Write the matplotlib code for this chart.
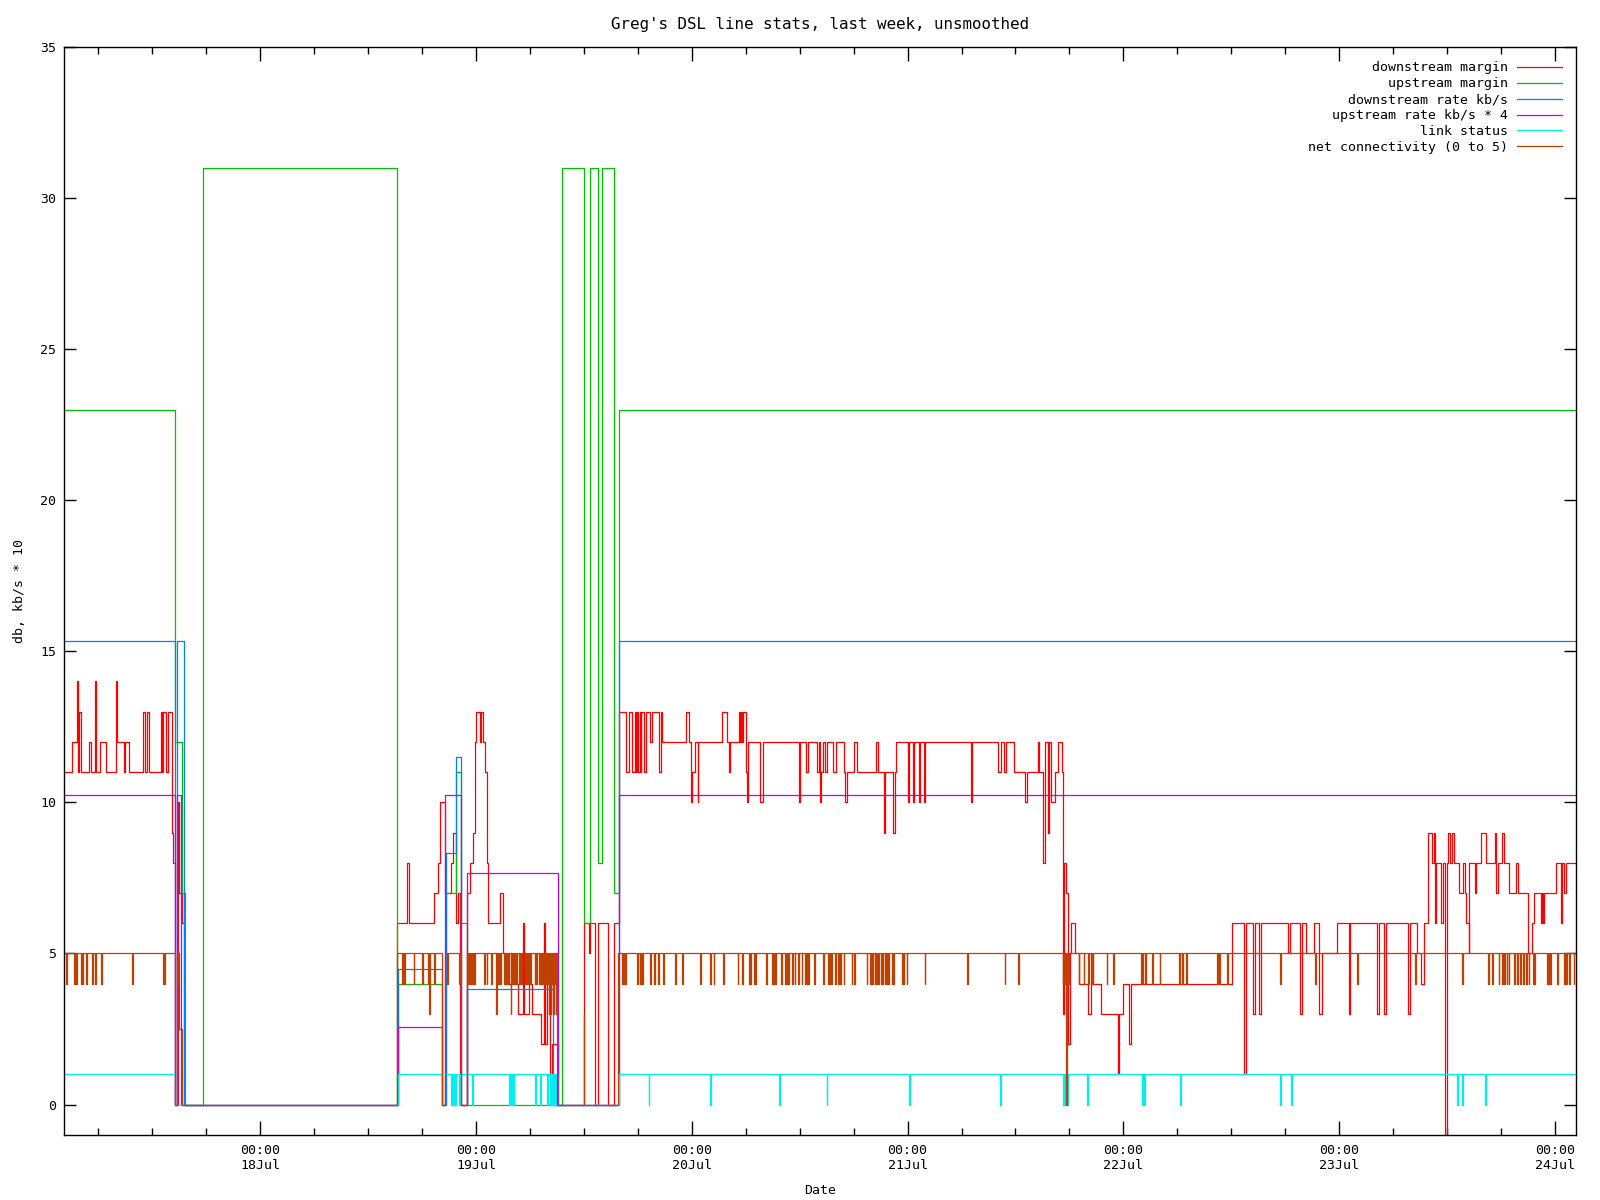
"""
	Greg's DSL line stats for the last week, redrawn as step lines
"""

from datetime import datetime, timedelta

import numpy as np
import matplotlib
matplotlib.use('Agg')
import matplotlib.pyplot as plt
import matplotlib.dates as mdates

# all times are hours since 17 Jul 00:00
START = datetime(2008, 7, 17)
SAMPLE = 0.083   # one 5 minute sample

# downstream margin
red_t = [2.2, 3.1, 3.6, 3.7, 3.88, 4.03, 5.0, 5.22, 5.6, 5.7, 6.22, 6.89, 7.9, 8.04, 8.89, 9.0, 9.45,
	10.9, 11.2, 11.37, 11.67, 12.9, 13.1, 13.2, 13.56, 13.7, 14.23, 14.34, 14.56, 14.85, 14.95, 15.25, 15.5,
	39.26, 40.37, 40.59, 43.37, 43.74, 44.04, 44.56, 45.18, 45.4, 45.74, 45.96, 46.2, 47.04, 47.34, 47.71,
	47.93, 48.04, 48.41, 48.56, 48.75, 49.04, 49.27, 49.38, 50.71, 50.94, 51.23, 52.71, 53.27, 53.38, 53.9,
	54.27, 55.27, 55.61, 55.72, 55.9, 56.24, 56.46, 57.1, 59.95, 60.6, 60.72, 61.2, 61.6, 62.73, 63.39, 63.95,
	64.73, 65.03, 65.29, 65.66, 65.84, 65.95, 66.06, 66.18, 66.29, 66.4, 66.73, 66.95, 67.4, 67.62, 68.4,
	68.62, 68.73, 71.4, 71.63, 71.96, 72.07, 72.33, 72.63, 72.74, 75.41, 75.96, 76.08, 76.3, 77.3, 77.41,
	77.52, 77.63, 77.74, 77.97, 78.08, 78.3, 79.63, 79.97, 83.97, 84.08, 84.75, 84.97, 85.97, 86.09, 86.2,
	86.42, 86.64, 86.86, 86.98, 87.75, 87.98, 88.98, 89.09, 89.31, 90.09, 90.42, 92.43, 92.76, 93.32, 93.43,
	94.43, 94.65, 94.76, 95.99, 96.1, 96.65, 96.76, 97.32, 97.43, 97.77, 97.99, 103.0, 103.11, 106.0, 106.44,
	106.67, 106.89, 107.78, 109.11, 109.33, 110.45, 110.67, 111.11, 111.33, 111.67, 111.78, 112.0, 112.34,
	112.78, 113.12, 113.3, 113.45, 113.6, 113.8, 114.05, 114.17, 114.67, 115.03, 116.04, 116.39, 117.48,
	119.39, 119.51, 120.01, 120.68, 120.86, 132.13, 133.47, 133.69, 134.47, 134.69, 135.14, 135.36, 138.36,
	138.55, 139.7, 139.85, 140.33, 141.15, 141.81, 142.04, 143.81, 145.08, 145.22, 148.19, 148.38, 149.04,
	149.19, 151.71, 151.9, 152.64, 153.1, 153.49, 153.83, 154.38, 154.57, 154.68, 154.79, 155.38, 155.57,
	155.83, 156.05, 156.16, 156.35, 156.53, 156.79, 157.35, 157.79, 158.05, 158.16, 158.39, 158.5, 159.09,
	159.2, 159.83, 160.39, 161.39, 161.5, 161.72, 162.17, 162.39, 162.84, 163.72, 163.84, 165.06, 165.43,
	165.73, 166.4, 166.51, 166.73, 166.84, 168.17, 168.73, 168.84, 169.06, 169.18, 170.4]
red_v = [11, 12, 14, 11, 13, 11, 12, 11, 14, 11, 12, 11, 14, 12, 11, 12, 11,
	13, 11, 13, 11, 13, 11, 13, 11, 13, 9, 8, 0, 10, 7, 6, 0,
	6, 8, 6, 7, 8, 10, 7, 8, 9, 6, 7, 0, 7, 8, 9,
	12, 13, 12, 13, 12, 11, 8, 6, 7, 5, 4, 3, 6, 3, 4,
	3, 2, 6, 2, 4, 1, 2, 0, 6, 5, 6, 0, 6, 0, 6, 13,
	11, 13, 11, 13, 11, 13, 11, 13, 11, 13, 11, 13, 12, 13, 11,
	13, 12, 13, 12, 10, 11, 12, 10, 12, 13, 12, 11, 12, 13, 12,
	13, 12, 13, 11, 10, 12, 10, 12, 10, 12, 11, 12, 11, 12, 10,
	11, 12, 11, 12, 11, 12, 11, 10, 11, 12, 11, 12, 11, 9, 11,
	9, 11, 12, 10, 12, 10, 12, 10, 12, 10, 12, 10, 12, 11, 12,
	11, 12, 11, 10, 11, 12, 11, 8, 12, 9, 12, 10, 11,
	12, 11, 3, 8, 7, 2, 5, 6, 5, 4, 3, 4, 3,
	1, 3, 4, 2, 4, 6, 1, 6, 3, 6, 3, 6, 5,
	6, 3, 6, 5, 6, 3, 5, 6, 3, 6, 3, 6, 3,
	6, 3, 6, 5, 4, 6, 9, 8, 9, 6, 8, 6, 8,
	-1, 8, 9, 8, 9, 8, 7, 8, 7, 6, 5, 8, 7,
	8, 9, 8, 9, 7, 8, 9, 8, 7, 8, 7, 5, 6,
	7, 6, 7, 6, 7, 8, 6, 8, 7, 8, 8]

# upstream margin
green_t = [2.2, 14.56, 15.27, 15.67, 17.6, 39.26, 39.37, 44.26, 44.63, 45.74, 46.3, 46.97,
	57.6, 59.95, 60.06, 60.72, 61.6, 62.06, 63.39, 63.95, 170.4]
green_v = [23, 12, 7, 0, 31, 0, 4, 0, 7, 11, 6, 0,
	31, 8, 6, 31, 8, 31, 7, 23, 23]

# downstream rate
blue_t = [2.2, 14.56, 14.7, 15.56, 39.37, 44.26, 44.63, 45.74, 46.3, 47.04, 56.6, 63.95, 170.4]
blue_v = [15.35, 0, 15.35, 0, 4.49, 0, 8.33, 11.5, 0, 3.83, 0, 15.35, 15.35]

# upstream rate * 4
purple_t = [2.2, 14.56, 14.7, 15.23, 39.37, 44.26, 44.56, 46.3, 47.04, 57.1, 63.95, 170.4]
purple_v = [10.25, 0, 10.25, 0, 2.57, 0, 10.25, 0, 7.67, 0, 10.25, 10.25]

# link status, with the short drops to 0
cyan_t = [2.2, 14.56, 39.37, 44.26, 44.56, 57.0, 63.95, 170.4]
cyan_v = [1, 0, 1, 0, 1, 0, 1, 1]
cyan_drops = [45.26, 45.48, 45.71, 46.12, 47.52, 47.62, 51.68, 51.86, 52.12, 54.61, 55.09, 55.87,
	56.2, 56.3, 56.4, 56.5, 56.6, 56.7, 56.8, 56.9, 67.18, 74.07, 81.7, 81.78, 86.98, 96.21, 106.33,
	113.23, 113.33, 113.43, 113.53, 113.63, 113.73, 116.0, 122.12, 122.3, 126.28, 137.47, 138.67,
	157.1, 157.68, 160.21]

# net connectivity, with the short drops to 4
conn_t = [2.2, 14.56, 14.7, 15.0, 15.34, 39.26, 44.26, 44.5, 46.3, 47.04, 57.0, 59.95, 60.05,
	63.84, 113.6, 113.78, 170.4]
conn_v = [5, 0, 5, 2.5, 0, 5, 0, 5, 0, 5, 0, 3, 0,
	5, 0, 5, 5]
conn_drops = [2.36, 3.33, 3.51, 4.1, 4.2, 4.66, 5.33, 5.66, 6.33, 9.78, 13.2, 13.3, 14.8,
	39.74, 39.84, 40.03, 41.04, 41.96, 42.63, 43.37, 44.82, 46.12,
	47.1, 47.2, 47.3, 47.4, 47.5, 47.6, 47.7, 47.8,
	48.93, 49.16, 49.71, 50.49, 50.71, 51.16, 51.38, 51.6, 52.05, 52.27, 52.49, 52.83, 53.05,
	53.4, 53.5, 53.6, 53.7, 53.8, 54.05, 54.5, 54.72,
	54.95, 55.05, 55.15, 55.25, 55.35, 55.45, 55.55, 55.65, 55.85, 55.95, 56.05, 56.15, 56.25,
	56.35, 56.45, 56.55, 56.65, 56.75, 56.85,
	64.28, 64.45, 64.55, 65.95, 66.2, 66.3, 66.51, 67.4, 67.84, 68.29, 68.84, 70.18, 70.96, 72.96,
	74.07, 74.41, 75.52, 77.08, 77.63, 78.4, 78.5, 78.95, 79.05, 80.3, 80.95, 81.05, 81.3, 81.97,
	82.4, 82.5, 82.75, 83.19, 83.42, 83.86, 84.2, 84.63, 84.73, 84.97, 85.64, 86.64, 87.2, 87.3,
	87.53, 87.9, 88.0, 88.31, 88.53, 88.87, 89.76, 90.09, 91.43, 91.85, 91.95, 92.09, 92.32, 92.54,
	92.76, 93.08, 93.18, 93.43, 93.65, 93.87, 94.25, 94.35, 95.35, 95.45, 95.55, 95.88, 97.88,
	102.66, 106.78, 108.33,
	113.25, 113.35, 113.45, 113.85,
	115.03, 115.57, 116.04, 116.43, 116.58, 118.14, 118.88, 121.98, 122.08, 122.46, 123.24, 124.02,
	126.24, 126.57, 127.02, 130.36, 130.46, 130.69, 131.58, 137.47, 141.37, 146.04, 152.46, 157.68,
	160.6, 160.99, 161.73, 162.12, 162.36, 162.63, 162.86, 163.4, 163.5, 163.8, 164.11, 164.46,
	164.77, 165.09, 165.6, 165.7, 167.15, 167.25, 167.5, 168.24, 169.02, 169.25, 169.56, 170.07]
# the few deeper drops
conn_deep_t = [42.74, 50.27, 51.83, 56.1, 56.3, 56.6, 56.9]
conn_deep_v = [3, 3, 3, 3, 3, 3, 3]

labels = ['downstream margin', 'upstream margin', 'downstream rate kb/s',
	'upstream rate kb/s * 4', 'link status', 'net connectivity (0 to 5)']
colors = ['#ff0000', '#00c000', '#0080ff', '#c000ff', '#00eeee', '#c04000']


def with_drops(base_t, base_v, drop_t, drop_v):
	# each drop lasts one sample, then the line goes back to the base value
	t = list(base_t)
	v = list(base_v)
	for h, val in zip(drop_t, drop_v):
		i = np.searchsorted(base_t, h, side='right') - 1
		t += [h, h + SAMPLE]
		v += [val, base_v[i]]
	order = np.argsort(t, kind='stable')
	return np.array(t)[order], np.array(v)[order]


def to_dates(hours):
	return [START + timedelta(hours=float(h)) for h in hours]


def main():
	plt.rcParams['font.family'] = ['DejaVu Sans Mono']
	plt.rcParams['font.size'] = 9.5

	cyan = with_drops(cyan_t, cyan_v, cyan_drops, [0] * len(cyan_drops))
	conn = with_drops(conn_t, conn_v, conn_drops + conn_deep_t,
		[4] * len(conn_drops) + conn_deep_v)
	series = [(red_t, red_v), (green_t, green_v), (blue_t, blue_v),
		(purple_t, purple_v), cyan, conn]

	fig = plt.figure(figsize=(16, 12), dpi=100)
	ax = fig.add_axes([0.0402, 0.0544, 0.9451, 0.9065])

	for (t, v), lab, col in zip(series, labels, colors):
		ax.step(to_dates(t), v, where='post', color=col, lw=0.9, label=lab)

	ax.set_xlim(START + timedelta(hours=2.2), START + timedelta(hours=170.4))
	ax.set_ylim(-1, 35)
	ax.set_yticks(range(0, 36, 5))

	ax.xaxis.set_major_locator(mdates.DayLocator())
	ax.xaxis.set_minor_locator(mdates.HourLocator(byhour=[6, 12, 18]))
	ax.xaxis.set_major_formatter(mdates.DateFormatter('%H:%M\n%d%b'))

	ax.tick_params(which='both', direction='in', top=True, right=True, width=1, colors='black')
	ax.tick_params(axis='x', which='major', length=10, pad=7)
	ax.tick_params(axis='x', which='minor', length=5)
	ax.tick_params(axis='y', which='major', length=8.6, pad=6)
	for s in ax.spines.values():
		s.set_linewidth(1)

	ax.set_title("Greg's DSL line stats, last week, unsmoothed", pad=13)
	ax.set_xlabel('Date', labelpad=8.5)
	ax.set_ylabel('db, kb/s * 10', labelpad=10)

	ax.legend(loc='upper right', frameon=False, markerfirst=False, handlelength=3.4,
		handletextpad=0.7, labelspacing=0.22, borderaxespad=0.7)

	fig.savefig('out.png')


if __name__ == '__main__':
	main()
